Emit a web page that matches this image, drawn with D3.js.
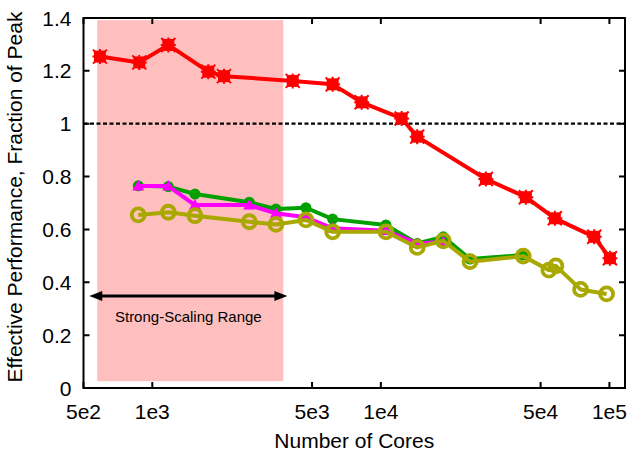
<!DOCTYPE html>
<html>
<head>
<meta charset="utf-8">
<script src="https://d3js.org/d3.v7.min.js"></script>
<style>
    body { margin: 0; background: #ffffff; }
    text { font-family: "Liberation Sans", Arial, Helvetica, sans-serif; fill: #000000; }
</style>
</head>
<body>
<script>

// Data
var redCores = [590, 877, 1175, 1758, 2059, 4115, 6152, 8240, 12330, 14420, 28800, 43100, 57700, 85800, 100500];
var redPerf = [1.254, 1.232, 1.298, 1.197, 1.180, 1.162, 1.149, 1.081, 1.020, 0.951, 0.791, 0.722, 0.642, 0.572, 0.491];

var greenCores = [868, 1175, 1537, 2656, 3475, 4700, 6152, 10525, 14420, 18750, 24540, 41950];
var greenPerf = [0.765, 0.762, 0.734, 0.703, 0.677, 0.682, 0.639, 0.617, 0.547, 0.572, 0.488, 0.503];

var magentaCores = [868, 1175, 1537, 2656, 3475, 4700, 6152, 10525, 14420, 18750];
var magentaPerf = [0.764, 0.764, 0.692, 0.692, 0.661, 0.646, 0.604, 0.595, 0.547, 0.553];

var oliveCores = [868, 1175, 1537, 2656, 3475, 4700, 6152, 10525, 14420, 18750, 24540, 41950, 54350, 58300, 74800, 97200];
var olivePerf = [0.655, 0.665, 0.652, 0.629, 0.619, 0.636, 0.591, 0.591, 0.532, 0.557, 0.478, 0.499, 0.446, 0.462, 0.373, 0.356];

var xTicks = [500, 1000, 5000, 10000, 50000, 100000];
var xTickLabels = ["5e2", "1e3", "5e3", "1e4", "5e4", "1e5"];
var yTicks = [0, 0.2, 0.4, 0.6, 0.8, 1, 1.2, 1.4];

var rangeCores = [574, 3741];
var rangePerf = [0.026, 1.392];

window.onload = function() {
    /*
     * Main function
     */
    drawChart();
};

function drawChart() {
    /*
    Draws the effective performance chart
    */

    var svgWidth = 629;
    var svgHeight = 465;

    var padding = {
        top: 18,
        right: 4,
        bottom: 77,
        left: 83.5
    };

    var chartWidth = svgWidth - padding.left - padding.right;
    var chartHeight = svgHeight - padding.top - padding.bottom;

    const svg = d3.select("body").append("svg")
        .attr("width", svgWidth)
        .attr("height", svgHeight);

    const chart = svg.append("g")
        .attr("transform", `translate(${padding.left}, ${padding.top})`);

    // Scales
    const xScale = d3.scaleLog()
        .domain([500, 117000])
        .range([0, chartWidth]);

    const yScale = d3.scaleLinear()
        .domain([0, 1.4])
        .range([chartHeight, 0]);

    // Strong-scaling shaded range
    chart.append("rect")
        .attr("x", xScale(rangeCores[0]))
        .attr("y", yScale(rangePerf[1]))
        .attr("width", xScale(rangeCores[1]) - xScale(rangeCores[0]))
        .attr("height", yScale(rangePerf[0]) - yScale(rangePerf[1]))
        .attr("fill", "#ffbfbf");

    // Dashed line at peak
    chart.append("line")
        .attr("x1", 0)
        .attr("x2", chartWidth)
        .attr("y1", yScale(1))
        .attr("y2", yScale(1))
        .attr("stroke", "#000")
        .attr("stroke-width", 2.3)
        .attr("stroke-dasharray", "4,2.5");

    // Double arrow
    var arrowY = 296 - padding.top;
    var ax0 = xScale(530);
    var ax1 = xScale(3900);
    chart.append("line")
        .attr("x1", ax0 + 8)
        .attr("x2", ax1 - 8)
        .attr("y1", arrowY)
        .attr("y2", arrowY)
        .attr("stroke", "#000")
        .attr("stroke-width", 3);
    chart.append("path")
        .attr("d", `M${ax0},${arrowY} l13,-5 l0,10 Z M${ax1},${arrowY} l-13,-5 l0,10 Z`)
        .attr("fill", "#000");

    chart.append("text")
        .attr("x", (ax0 + ax1) / 2)
        .attr("y", 322 - padding.top)
        .attr("text-anchor", "middle")
        .style("font-size", "15px")
        .text("Strong-Scaling Range");

    // Series lines
    var series = [
        { x: redCores, y: redPerf, color: "#ff0000", marker: "star" },
        { x: greenCores, y: greenPerf, color: "#00a000", marker: "dot" },
        { x: magentaCores, y: magentaPerf, color: "#ff00ff", marker: "triangle" },
        { x: oliveCores, y: olivePerf, color: "#a8a800", marker: "ring" }
    ];

    var line = d3.line()
        .x(function(d) { return xScale(d[0]); })
        .y(function(d) { return yScale(d[1]); });

    series.forEach(function(s) {
        var points = s.x.map(function(v, i) { return [v, s.y[i]]; });

        chart.append("path")
            .datum(points)
            .attr("d", line)
            .attr("fill", "none")
            .attr("stroke", s.color)
            .attr("stroke-width", 4)
            .attr("stroke-linejoin", "round");

        var marks = chart.append("g").selectAll("g")
            .data(points)
            .enter()
            .append("g")
            .attr("transform", function(d) {
                return `translate(${xScale(d[0])}, ${yScale(d[1])})`;
            });

        if (s.marker == "star") {
            marks.append("rect")
                .attr("x", -6).attr("y", -6)
                .attr("width", 12).attr("height", 12)
                .attr("fill", s.color);
            marks.append("path")
                .attr("d", "M-7.5,0H7.5M0,-7.5V7.5M-7,-7L7,7M-7,7L7,-7")
                .attr("stroke", s.color)
                .attr("stroke-width", 2);
        }
        else if (s.marker == "dot") {
            marks.append("circle")
                .attr("r", 5.5)
                .attr("fill", s.color);
        }
        else if (s.marker == "triangle") {
            marks.append("path")
                .attr("d", "M0,-6L6,4.5L-6,4.5Z")
                .attr("fill", s.color);
        }
        else {
            marks.append("circle")
                .attr("r", 6.5)
                .attr("fill", "none")
                .attr("stroke", s.color)
                .attr("stroke-width", 3.8);
        }
    });

    // Frame
    chart.append("rect")
        .attr("width", chartWidth)
        .attr("height", chartHeight)
        .attr("fill", "none")
        .attr("stroke", "#000")
        .attr("stroke-width", 2);

    // Inward ticks on all sides
    var tickLen = 6;
    chart.append("g").selectAll("line")
        .data(xTicks)
        .enter()
        .append("path")
        .attr("d", function(d) {
            var x = xScale(d);
            return `M${x},${chartHeight}v${-tickLen}M${x},0v${tickLen}`;
        })
        .attr("stroke", "#000")
        .attr("stroke-width", 2);

    chart.append("g").selectAll("line")
        .data(yTicks)
        .enter()
        .append("path")
        .attr("d", function(d) {
            var y = yScale(d);
            return `M0,${y}h${tickLen}M${chartWidth},${y}h${-tickLen}`;
        })
        .attr("stroke", "#000")
        .attr("stroke-width", 2);

    // Tick labels
    chart.append("g").selectAll("text")
        .data(xTicks)
        .enter()
        .append("text")
        .attr("x", function(d) { return xScale(d); })
        .attr("y", chartHeight + 31)
        .attr("text-anchor", "middle")
        .style("font-size", "21px")
        .text(function(d, i) { return xTickLabels[i]; });

    chart.append("g").selectAll("text")
        .data(yTicks)
        .enter()
        .append("text")
        .attr("x", -12)
        .attr("y", function(d) { return yScale(d); })
        .attr("dy", "0.36em")
        .attr("text-anchor", "end")
        .style("font-size", "21px")
        .text(function(d) { return d3.format("")(d); });

    // Axis titles
    svg.append("text")
        .attr("x", padding.left + chartWidth / 2)
        .attr("y", 448)
        .attr("text-anchor", "middle")
        .style("font-size", "21px")
        .text("Number of Cores");

    svg.append("text")
        .attr("transform", "rotate(-90)")
        .attr("x", -197)
        .attr("y", 22)
        .attr("text-anchor", "middle")
        .style("font-size", "21px")
        .text("Effective Performance, Fraction of Peak");
};

</script>
</body>
</html>
